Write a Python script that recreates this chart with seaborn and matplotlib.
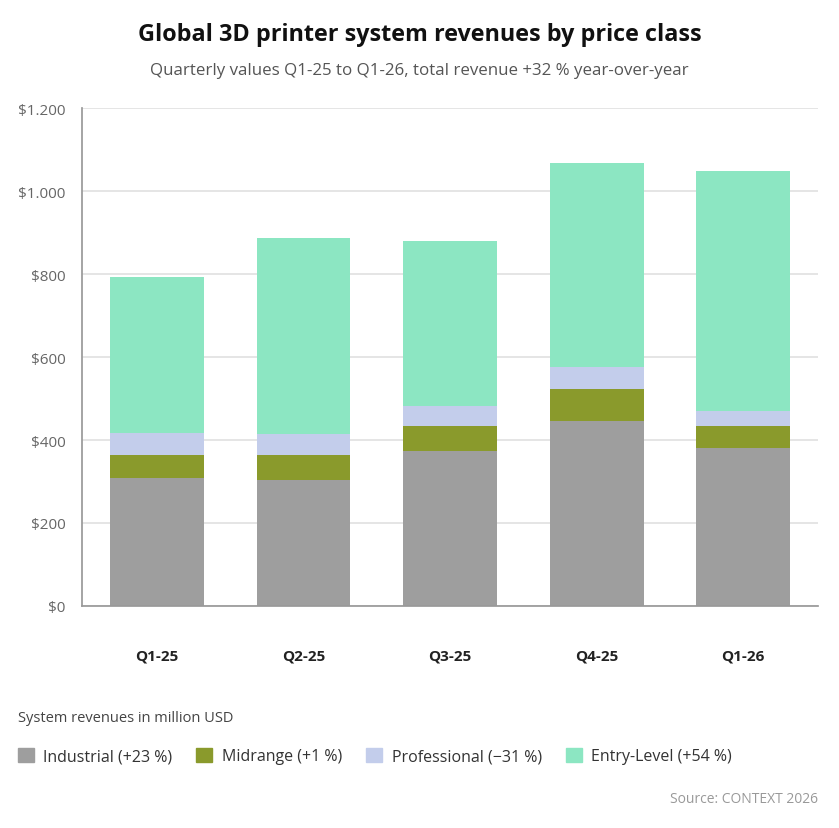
import matplotlib
matplotlib.use("Agg")
import matplotlib.pyplot as plt
import matplotlib.patches as mpatches
import seaborn as sns
import pandas as pd

# Daten (Mio. USD)
quarters = ["Q1-25", "Q2-25", "Q3-25", "Q4-25", "Q1-26"]
industrial = [308, 303, 373, 447, 381]
midrange = [55, 60, 61, 77, 54]
professional = [55, 51, 49, 51, 36]
entry_level = [375, 474, 397, 493, 577]

series_names = ["Industrial (+23 %)", "Midrange (+1 %)",
                "Professional (\u221231 %)", "Entry-Level (+54 %)"]
colors = ["#9e9e9e", "#8a9a2c", "#c3cdeb", "#8ce6c2"]
y_ticks = [0, 200, 400, 600, 800, 1000, 1200]
y_labels = ["$0", "$200", "$400", "$600", "$800", "$1.000", "$1.200"]

sns.set_theme(style="white")
plt.rcParams["font.family"] = ["Open Sans", "DejaVu Sans"]

df = pd.DataFrame({
    "quarter": quarters,
    "Industrial": industrial,
    "Midrange": midrange,
    "Professional": professional,
    "Entry": entry_level,
})
layers = ["Industrial", "Midrange", "Professional", "Entry"]
cum = df[layers].cumsum(axis=1)
cum["quarter"] = df["quarter"]

fig = plt.figure(figsize=(8.39, 8.29), dpi=100)
ax = fig.add_axes([0.098, 0.268, 0.877, 0.6])

# gestapelt: von oben nach unten übereinander zeichnen
for layer, col in reversed(list(zip(layers, colors))):
    sns.barplot(data=cum, x="quarter", y=layer, color=col, width=0.64,
                saturation=1, ax=ax, zorder=2, edgecolor="none")

ax.set_xlim(-0.51, 4.51)
ax.set_ylim(0, 1195)
ax.set_yticks(y_ticks)
ax.set_yticklabels(y_labels)
ax.yaxis.grid(True, color="#e0e0e0", linewidth=1.2, zorder=0)
ax.set_axisbelow(True)
ax.set_xlabel("")
ax.set_ylabel("")
for s in ["top", "right"]:
    ax.spines[s].set_visible(False)
ax.spines["left"].set_color("#999999")
ax.spines["bottom"].set_color("#999999")
ax.tick_params(axis="y", length=0, labelsize=11, labelcolor="#666666", pad=12)
ax.tick_params(axis="x", length=0, labelsize=11, labelcolor="#222222", pad=31)
for t in ax.get_xticklabels():
    t.set_fontweight("bold")

fig.text(0.5, 0.958, "Global 3D printer system revenues by price class",
         ha="center", va="center", fontsize=16.8, fontweight="bold", color="#111111")
fig.text(0.5, 0.914, "Quarterly values Q1-25 to Q1-26, total revenue +32 % year-over-year",
         ha="center", va="center", fontsize=12.2, color="#555555")

fig.text(18 / 839, 1 - 718 / 829, "System revenues in million USD",
         ha="left", va="center", fontsize=10.5, color="#444444")

handles = [mpatches.Patch(color=c, label=n) for n, c in zip(series_names, colors)]
fig.legend(handles=handles, loc="center left", bbox_to_anchor=(0.004, 1 - 757 / 829),
           ncol=4, frameon=False, fontsize=11.5, handlelength=1.0, handleheight=1.0,
           handletextpad=0.6, columnspacing=1.5, labelcolor="#333333")

fig.text(818 / 839, 1 - 800 / 829, "Source: CONTEXT 2026",
         ha="right", va="center", fontsize=10, color="#999999")

fig.savefig("out.png", dpi=100)
